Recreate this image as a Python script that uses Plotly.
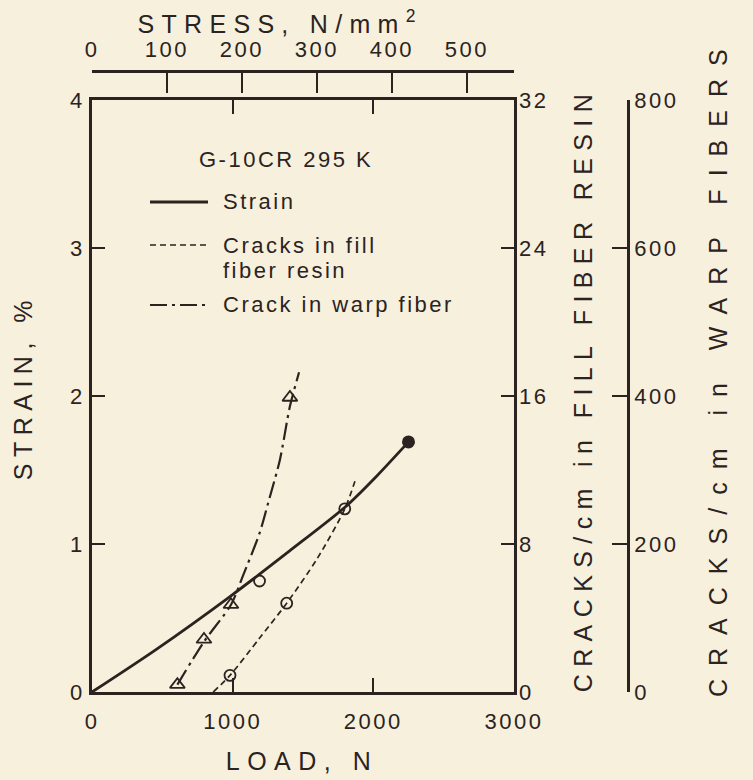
import json
import plotly.graph_objects as go

# ---------------- data ----------------
strain_load = [0, 460, 981, 1407, 1800, 2025, 2250]
strain_pct = [0, 0.29, 0.645, 0.955, 1.25, 1.46, 1.69]
strain_end_load = [2250]
strain_end_pct = [1.69]

fill_curve_load = [862, 981, 1190, 1384, 1600, 1797, 1878]
fill_curve_cracks = [0, 0.9, 2.9, 4.8, 7.2, 9.9, 11.6]
fill_point_load = [981, 1191, 1384, 1797]
fill_point_cracks = [0.9, 6.0, 4.8, 9.9]

warp_curve_load = [607, 796, 988, 1075, 1190, 1253, 1336, 1407, 1472]
warp_curve_cracks = [10, 68, 118, 158, 214, 256, 314, 386, 432]
warp_point_load = [607, 796, 988, 1407]
warp_point_cracks = [10, 71, 118, 398]

load_ticks = [0, 1000, 2000, 3000]
strain_ticks = [0, 1, 2, 3, 4]
stress_ticks = [0, 100, 200, 300, 400, 500]
fill_ticks = [0, 8, 16, 24, 32]
warp_ticks = [0, 200, 400, 600, 800]
specimen_area_mm2 = 5.33  # load (N) / stress (N/mm2)

legend_title = "G-10CR 295 K"
legend_labels = ["Strain", "Cracks in fill", "fiber resin", "Crack in warp fiber"]

# ---------------- style ----------------
W, H = 753, 780
INK = "#2b231f"
BG = "#f6f0dc"
FONT = "Liberation Sans, Arial, sans-serif"


def px(x):
    return x / W


def py(y):
    return 1 - y / H


xdom = [px(92), px(514)]
ydom = [py(692), py(100)]

fig = go.Figure()

# strain (left axis)
fig.add_trace(go.Scatter(x=strain_load, y=strain_pct, mode="lines",
                         line=dict(color=INK, width=2.8, shape="spline", smoothing=0.8),
                         xaxis="x", yaxis="y", hoverinfo="skip"))
fig.add_trace(go.Scatter(x=strain_end_load, y=strain_end_pct, mode="markers",
                         marker=dict(symbol="circle", size=13, color=INK),
                         xaxis="x", yaxis="y", hoverinfo="skip"))

# cracks in fill fiber resin (0-32 axis)
fig.add_trace(go.Scatter(x=fill_curve_load, y=fill_curve_cracks, mode="lines",
                         line=dict(color=INK, width=1.7, dash="6px,4px", shape="spline",
                                   smoothing=0.8),
                         xaxis="x", yaxis="y2", hoverinfo="skip"))
fig.add_trace(go.Scatter(x=fill_point_load, y=fill_point_cracks, mode="markers",
                         marker=dict(symbol="circle-open", size=11, color=INK,
                                     line=dict(width=1.8, color=INK)),
                         xaxis="x", yaxis="y2", hoverinfo="skip"))

# cracks in warp fibers (0-800 axis)
fig.add_trace(go.Scatter(x=warp_curve_load, y=warp_curve_cracks, mode="lines",
                         line=dict(color=INK, width=2.2, dash="17px,5px,3px,5px",
                                   shape="spline", smoothing=0.8),
                         xaxis="x", yaxis="y3", hoverinfo="skip"))
fig.add_trace(go.Scatter(x=warp_point_load, y=warp_point_cracks, mode="markers",
                         marker=dict(symbol="triangle-up-open", size=13, color=INK,
                                     line=dict(width=1.8, color=INK)),
                         xaxis="x", yaxis="y3", hoverinfo="skip"))

# invisible trace to carry the stress axis
fig.add_trace(go.Scatter(x=stress_ticks, y=[None] * len(stress_ticks), mode="markers",
                         xaxis="x2", yaxis="y", hoverinfo="skip", showlegend=False))

axis_common = dict(showgrid=False, zeroline=False, color=INK, linecolor=INK,
                   tickcolor=INK, automargin=False,
                   tickfont=dict(size=22, family=FONT, color=INK))

fig.update_layout(
    width=W, height=H, margin=dict(l=0, r=0, t=0, b=0, pad=0),
    paper_bgcolor=BG, plot_bgcolor=BG, showlegend=False,
    font=dict(family=FONT, color=INK, size=22),
    xaxis=dict(domain=xdom, range=[0, 3000], tickvals=load_ticks, ticks="inside",
               ticklen=14, tickwidth=2, showline=True, linewidth=2.8, mirror="ticks",
               anchor="y", ticklabelstandoff=8, **axis_common),
    yaxis=dict(domain=ydom, range=[0, 4], tickvals=strain_ticks, ticks="inside",
               ticklen=13, tickwidth=2, showline=True, linewidth=2.8, mirror="ticks",
               anchor="x", ticklabelstandoff=0, **axis_common),
    yaxis2=dict(overlaying="y", side="right", anchor="x", range=[0, 32],
                tickvals=fill_ticks, ticks="", showline=False,
                ticklabelstandoff=4, **axis_common),
    yaxis3=dict(overlaying="y", side="right", anchor="free", position=px(628),
                range=[0, 800], tickvals=warp_ticks, ticks="inside", ticklen=15,
                tickwidth=2, showline=True, linewidth=2.8, ticklabelstandoff=0,
                **axis_common),
    xaxis2=dict(overlaying="x", side="top", anchor="free", position=py(71),
                range=[0, 3000 / specimen_area_mm2], tickvals=stress_ticks,
                ticks="inside", ticklen=20, tickwidth=2, showline=True, linewidth=2.8,
                ticklabelstandoff=4, **axis_common),
)

title_font = dict(family=FONT, size=25, color=INK)
ann = [
    dict(text="STRESS, N/mm<sup>2</sup>", x=px(280), y=py(22), textangle=0),
    dict(text="LOAD, N", x=px(302), y=py(761), textangle=0),
    dict(text="STRAIN, %", x=px(23), y=py(387), textangle=-90),
    dict(text="CRACKS/cm in FILL FIBER RESIN", x=px(583), y=py(390), textangle=-90),
    dict(text="CRACKS/cm in WARP FIBERS", x=px(718), y=py(367), textangle=-90),
]
for a in ann:
    fig.add_annotation(xref="paper", yref="paper", showarrow=False,
                       xanchor="center", yanchor="middle", font=title_font, **a)

leg_font = dict(family=FONT, size=22, color=INK)
fig.add_annotation(text=legend_title, x=px(197), y=py(160), xref="paper", yref="paper",
                   showarrow=False, xanchor="left", yanchor="middle", align="left",
                   font=leg_font)
leg_rows = [202, 245, 270, 305]
for lab, yy in zip(legend_labels, leg_rows):
    fig.add_annotation(text=lab, x=px(221), y=py(yy), xref="paper", yref="paper",
                       showarrow=False, xanchor="left", yanchor="middle", align="left",
                       font=leg_font)

leg_samples = [(202, "solid", 2.8), (245, "6px,4px", 1.7), (305, "17px,5px,3px,5px", 2.2)]
for yy, dash, wdt in leg_samples:
    fig.add_shape(type="line", xref="paper", yref="paper", x0=px(150), x1=px(208),
                  y0=py(yy), y1=py(yy), line=dict(color=INK, width=wdt, dash=dash))

spacing = {
    "STRESS": 7.3,
    "LOAD": 7.5,
    "STRAIN": 6.5,
    "CRACKS/cm in FILL": 7.4,
    "CRACKS/cm in WARP": 13.0,
}
js = """
var gd = document.getElementById('{plot_id}');
var sp = %s;
gd.querySelectorAll('text').forEach(function(t){
  var k = t.textContent;
  var s = 2.5;
  Object.keys(sp).forEach(function(p){ if (k.indexOf(p) === 0) { s = sp[p]; } });
  t.style.letterSpacing = s + 'px';
});
""" % json.dumps(spacing)

fig.write_html("out.html", config={"displayModeBar": False}, post_script=js)
